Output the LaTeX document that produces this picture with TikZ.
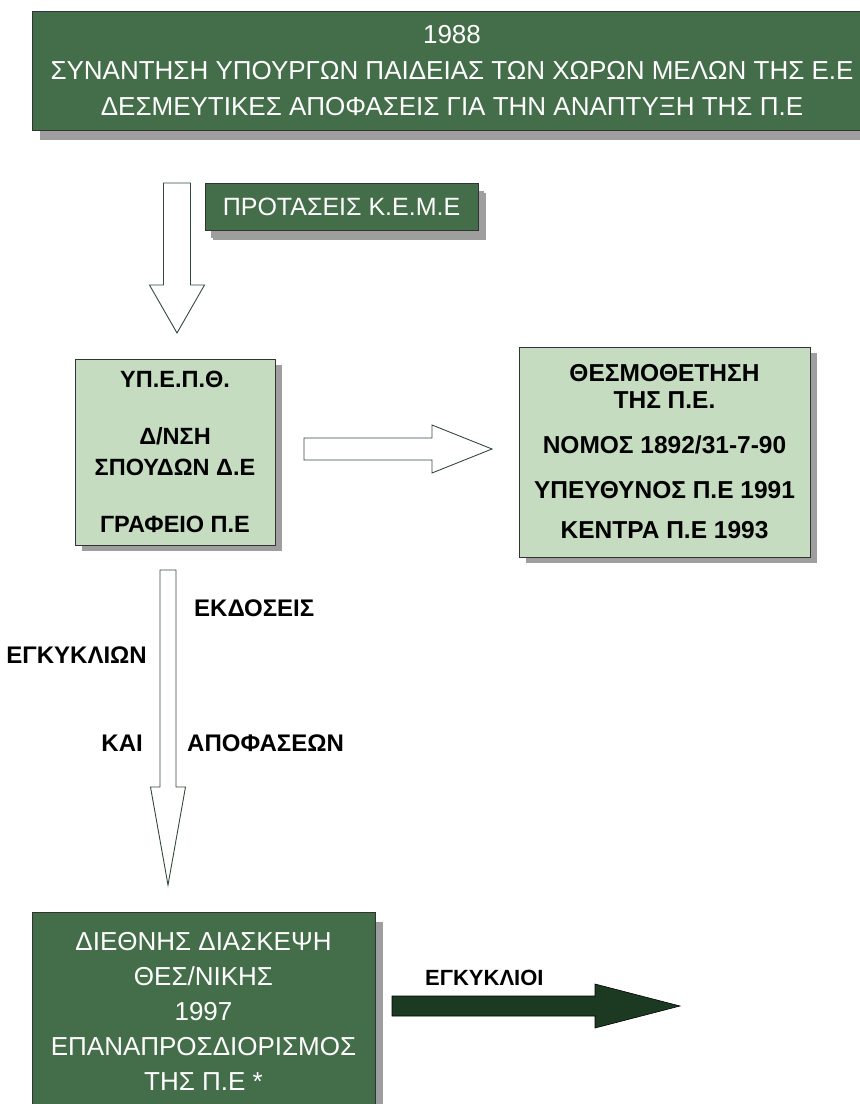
\documentclass[tikz,border=0pt]{standalone}
\usepackage{fontspec}
\setmainfont{Liberation Sans}
\usetikzlibrary{calc}
\usetikzlibrary{shadows}

\definecolor{boxgreen}{RGB}{68,110,74}
\definecolor{palegreen}{RGB}{198,220,192}
\definecolor{shadowgrey}{RGB}{158,158,158}
\definecolor{arrowline}{RGB}{52,74,58}
\definecolor{arrowdark}{RGB}{28,58,34}

% block arrows: [style]{from}{to}{half shaft}{half head}{head length}
\newcommand{\vblock}[6][]{%
  \draw[#1] ($(#2)+(-#4,0)$) -- ($(#2)+(#4,0)$) -- ($(#3)+(#4,-#6)$) -- ($(#3)+(#5,-#6)$) -- (#3)
    -- ($(#3)+(-#5,-#6)$) -- ($(#3)+(-#4,-#6)$) -- cycle;}
\newcommand{\hblock}[6][]{%
  \draw[#1] ($(#2)+(0,-#4)$) -- ($(#3)+(-#6,-#4)$) -- ($(#3)+(-#6,-#5)$) -- (#3)
    -- ($(#3)+(-#6,#5)$) -- ($(#3)+(-#6,#4)$) -- ($(#2)+(0,#4)$) -- cycle;}

\begin{document}
\begin{tikzpicture}
	[x=1pt,y=-1pt,
	darkbox/.style={draw=black!80,fill=boxgreen,text=white,align=center,inner sep=0pt,
		drop shadow={shadow xshift=8pt,shadow yshift=-10pt,fill=shadowgrey,opacity=1}},
	lightbox/.style={draw=black!80,fill=palegreen,text=black,align=center,inner sep=0pt,
		drop shadow={shadow xshift=7pt,shadow yshift=-6pt,fill=shadowgrey,opacity=1}},
	hollow/.style={draw=arrowline,fill=white,line width=0.9pt},
	heavy/.style={draw=black,fill=arrowdark,line width=0.6pt},
	lbl/.style={font=\bfseries\fontsize{24}{28}\selectfont,inner sep=0pt}]
	\path[use as bounding box,fill=white] (0,0) rectangle (860,1104);

	\node[darkbox,minimum width=840pt,minimum height=119pt,font=\fontsize{26}{36}\selectfont] (meeting) at (452,70.5)
		{1988\\ΣΥΝΑΝΤΗΣΗ ΥΠΟΥΡΓΩΝ ΠΑΙΔΕΙΑΣ ΤΩΝ ΧΩΡΩΝ ΜΕΛΩΝ ΤΗΣ Ε.Ε\\ΔΕΣΜΕΥΤΙΚΕΣ ΑΠΟΦΑΣΕΙΣ ΓΙΑ ΤΗΝ ΑΝΑΠΤΥΞΗ ΤΗΣ Π.Ε};
	\node[darkbox,minimum width=273pt,minimum height=47pt,font=\fontsize{25}{28}\selectfont,
		drop shadow={shadow xshift=6pt,shadow yshift=-8pt,fill=shadowgrey,opacity=1}] (keme) at (341.5,206.5)
		{ΠΡΟΤΑΣΕΙΣ Κ.Ε.Μ.Ε};
	\node[lightbox,minimum width=200pt,minimum height=186pt,font=\bfseries\fontsize{23.5}{31}\selectfont] (ministry) at (175,452)
		{ΥΠ.Ε.Π.Θ.\\[26pt]Δ/ΝΣΗ\\ΣΠΟΥΔΩΝ Δ.Ε\\[26pt]ΓΡΑΦΕΙΟ Π.Ε};
	\node[lightbox,minimum width=291pt,minimum height=210pt,font=\bfseries\fontsize{24.5}{27}\selectfont] (law) at (664.5,452)
		{ΘΕΣΜΟΘΕΤΗΣΗ\\ΤΗΣ Π.Ε.\\[18pt]ΝΟΜΟΣ 1892/31-7-90\\[18pt]ΥΠΕΥΘΥΝΟΣ Π.Ε 1991\\[13pt]ΚΕΝΤΡΑ Π.Ε 1993};
	\node[darkbox,minimum width=343pt,minimum height=198pt,font=\fontsize{26}{35}\selectfont] (conference) at (203.5,1011)
		{ΔΙΕΘΝΗΣ ΔΙΑΣΚΕΨΗ\\ΘΕΣ/ΝΙΚΗΣ\\1997\\ΕΠΑΝΑΠΡΟΣΔΙΟΡΙΣΜΟΣ\\ΤΗΣ Π.Ε *};

	\coordinate (kemetop) at (177,183);
	\coordinate (kemetip) at (177,333);
	\coordinate (lawfrom) at (304,449);
	\coordinate (lawtip) at (492,449);
	\coordinate (issuetop) at (168,570);
	\coordinate (issuetip) at (168,885);
	\coordinate (circfrom) at (392,1006);
	\coordinate (circtip) at (680,1006);

	\vblock[hollow]{kemetop}{kemetip}{13.5}{27.5}{48}
	\hblock[hollow]{lawfrom}{lawtip}{11}{24}{60}
	\vblock[hollow]{issuetop}{issuetip}{8}{17.5}{98}
	\hblock[heavy]{circfrom}{circtip}{10}{22}{85}

	\node[lbl,anchor=west] (issues) at (194,608) {ΕΚΔΟΣΕΙΣ};
	\node[lbl,anchor=east] (circulars) at (147,655) {ΕΓΚΥΚΛΙΩΝ};
	\node[lbl,anchor=east] (and) at (143,743) {ΚΑΙ};
	\node[lbl,anchor=west] (decisions) at (187,743) {ΑΠΟΦΑΣΕΩΝ};
	\node[lbl,anchor=west,font=\bfseries\fontsize{22}{24}\selectfont] (sent) at (425,978) {ΕΓΚΥΚΛΙΟΙ};
\end{tikzpicture}
\end{document}
